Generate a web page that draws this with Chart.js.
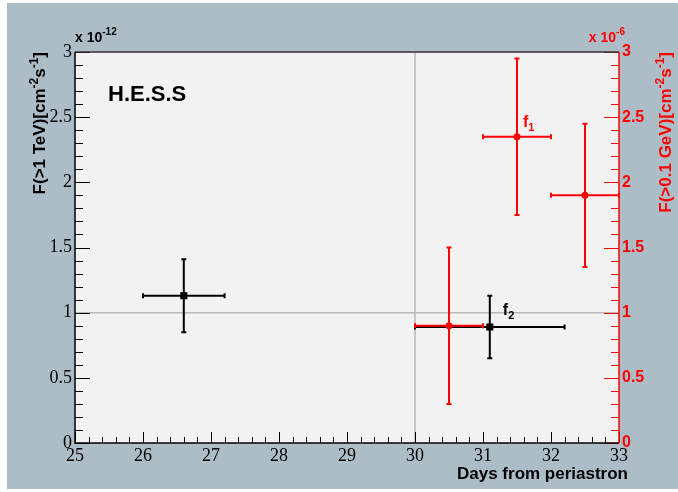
<!DOCTYPE html>
<html>
<head>
<meta charset="utf-8">
<script src="https://cdn.jsdelivr.net/npm/chart.js@4.4.0/dist/chart.umd.min.js"></script>
<style>
  html, body { margin: 0; padding: 0; background: #ffffff; }
  #wrap { position: absolute; left: 0; top: 0; width: 678px; height: 492px; }
</style>
</head>
<body>
<div id="wrap"><canvas id="lightcurve" width="678" height="492"></canvas></div>
<script>
// H.E.S.S. flux above 1 TeV (units of 1e-12 cm^-2 s^-1)
const hessDays    = [26.6, 31.1];
const hessFlux    = [1.13, 0.89];
const hessDayLo   = [26.0, 30.0];
const hessDayHi   = [27.2, 32.2];
const hessFluxLo  = [0.85, 0.65];
const hessFluxHi  = [1.41, 1.13];

// flux above 0.1 GeV (units of 1e-6 cm^-2 s^-1), red points
const latDays     = [30.5, 31.5, 32.5];
const latFlux     = [0.90, 2.35, 1.90];
const latDayLo    = [30.0, 31.0, 32.0];
const latDayHi    = [31.0, 32.0, 33.0];
const latFluxLo   = [0.30, 1.75, 1.35];
const latFluxHi   = [1.50, 2.95, 2.45];

// reference lines (periastron + 30 d, flux level 1)
const refDay = 30;
const refFlux = 1;

const RED = '#ff0000';
const SANS = '"Liberation Sans", Arial, sans-serif';
const SERIF = '"Liberation Serif", "Times New Roman", serif';

// ROOT style tick labels: 0, 0.5, 1, 1.5 ...
const rootLabel = (v) => String(parseFloat(Number(v).toFixed(1)));

/**
 * Draw a run of text pieces; each piece may be raised (superscript) or lowered (subscript)
 */
function drawPieces(ctx, pieces, x, y, color) {
    ctx.fillStyle = color;
    ctx.textAlign = 'left';
    ctx.textBaseline = 'alphabetic';
    let cx = x;
    pieces.forEach(p => {
        ctx.font = 'bold ' + p.size + 'px ' + SANS;
        ctx.fillText(p.text, cx, y + (p.dy || 0));
        cx += ctx.measureText(p.text).width;
    });
    return cx - x;
}

function piecesWidth(ctx, pieces) {
    let w = 0;
    pieces.forEach(p => {
        ctx.font = 'bold ' + p.size + 'px ' + SANS;
        w += ctx.measureText(p.text).width;
    });
    return w;
}

function drawErrorBars(ctx, xs, ys, xlo, xhi, ylo, yhi, xScale, yScale, color) {
    ctx.save();
    ctx.strokeStyle = color;
    ctx.lineWidth = 2;
    const cap = 2.5;
    for (let i = 0; i < xs.length; i++) {
        const px = xScale.getPixelForValue(xs[i]);
        const py = yScale.getPixelForValue(ys[i]);
        const x0 = xScale.getPixelForValue(xlo[i]);
        const x1 = xScale.getPixelForValue(xhi[i]);
        const y0 = yScale.getPixelForValue(ylo[i]);
        const y1 = yScale.getPixelForValue(yhi[i]);
        ctx.beginPath();
        ctx.moveTo(x0, py); ctx.lineTo(x1, py);
        ctx.moveTo(px, y0); ctx.lineTo(px, y1);
        // end caps
        ctx.moveTo(x0, py - cap); ctx.lineTo(x0, py + cap);
        ctx.moveTo(x1, py - cap); ctx.lineTo(x1, py + cap);
        ctx.moveTo(px - cap, y0); ctx.lineTo(px + cap, y0);
        ctx.moveTo(px - cap, y1); ctx.lineTo(px + cap, y1);
        ctx.stroke();
    }
    ctx.restore();
}

const rootStyle = {
    id: 'rootStyle',
    beforeDraw(chart) {
        const ctx = chart.ctx;
        const a = chart.chartArea;
        ctx.save();
        ctx.fillStyle = '#acbdc7';
        ctx.fillRect(7, 3, chart.width - 7, 486);
        ctx.fillStyle = '#f2f2f2';
        ctx.fillRect(a.left, a.top, a.right - a.left, a.bottom - a.top);
        ctx.restore();
    },
    beforeDatasetsDraw(chart) {
        const ctx = chart.ctx;
        const a = chart.chartArea;
        const sx = chart.scales.x, sy = chart.scales.y, sy2 = chart.scales.y2;
        ctx.save();
        ctx.strokeStyle = '#b8b8b8';
        ctx.lineWidth = 1.5;
        ctx.beginPath();
        const vx = sx.getPixelForValue(refDay);
        const hy = sy.getPixelForValue(refFlux);
        ctx.moveTo(vx, a.top); ctx.lineTo(vx, a.bottom);
        ctx.moveTo(a.left, hy); ctx.lineTo(a.right, hy);
        ctx.stroke();
        ctx.restore();
        drawErrorBars(ctx, hessDays, hessFlux, hessDayLo, hessDayHi, hessFluxLo, hessFluxHi, sx, sy, '#000000');
        drawErrorBars(ctx, latDays, latFlux, latDayLo, latDayHi, latFluxLo, latFluxHi, sx, sy2, RED);
    },
    afterDraw(chart) {
        const ctx = chart.ctx;
        const a = chart.chartArea;
        const sx = chart.scales.x, sy = chart.scales.y, sy2 = chart.scales.y2;
        ctx.save();

        // axis ticks, drawn inward like ROOT
        ctx.lineWidth = 1;
        ctx.strokeStyle = '#000000';
        ctx.beginPath();
        for (let i = 0; i <= 40; i++) {
            const v = sx.min + i * 0.2;
            const px = Math.round(sx.getPixelForValue(v)) + 0.5;
            const len = i % 5 === 0 ? 11 : 6;
            ctx.moveTo(px, a.bottom); ctx.lineTo(px, a.bottom - len);
        }
        for (let i = 0; i <= 30; i++) {
            const v = sy.min + i * 0.1;
            const py = Math.round(sy.getPixelForValue(v)) + 0.5;
            const len = i % 5 === 0 ? 15 : 8;
            ctx.moveTo(a.left, py); ctx.lineTo(a.left + len, py);
        }
        ctx.stroke();
        ctx.strokeStyle = RED;
        ctx.beginPath();
        for (let i = 0; i <= 30; i++) {
            const v = sy2.min + i * 0.1;
            const py = Math.round(sy2.getPixelForValue(v)) + 0.5;
            const len = i % 5 === 0 ? 15 : 8;
            ctx.moveTo(a.right, py); ctx.lineTo(a.right - len, py);
        }
        ctx.stroke();

        // frame
        ctx.lineWidth = 1.5;
        ctx.strokeStyle = '#333333';
        ctx.beginPath();
        ctx.moveTo(a.left, a.top); ctx.lineTo(a.right, a.top);
        ctx.stroke();
        ctx.strokeStyle = '#000000';
        ctx.beginPath();
        ctx.moveTo(a.left, a.top); ctx.lineTo(a.left, a.bottom); ctx.lineTo(a.right, a.bottom);
        ctx.stroke();
        ctx.strokeStyle = RED;
        ctx.beginPath();
        ctx.moveTo(a.right, a.top); ctx.lineTo(a.right, a.bottom);
        ctx.stroke();

        // exponent labels
        drawPieces(ctx, [{ text: 'x 10', size: 14 }, { text: '-12', size: 10, dy: -7 }], a.left, 42, '#000000');
        const expR = [{ text: 'x 10', size: 14 }, { text: '-6', size: 10, dy: -7 }];
        drawPieces(ctx, expR, a.right + 6 - piecesWidth(ctx, expR), 42, RED);

        // axis titles
        const leftTitle = [
            { text: 'F(>1 TeV)[cm', size: 17 }, { text: '-2', size: 12, dy: -7 },
            { text: 's', size: 17 }, { text: '-1', size: 12, dy: -7 }, { text: ']', size: 17 }
        ];
        const rightTitle = [
            { text: 'F(>0.1 GeV)[cm', size: 17 }, { text: '-2', size: 12, dy: -7 },
            { text: 's', size: 17 }, { text: '-1', size: 12, dy: -7 }, { text: ']', size: 17 }
        ];
        [[leftTitle, 45, '#000000'], [rightTitle, 671, RED]].forEach(([pieces, bx, color]) => {
            ctx.save();
            ctx.translate(bx, a.top);
            ctx.rotate(-Math.PI / 2);
            drawPieces(ctx, pieces, -piecesWidth(ctx, pieces), 0, color);
            ctx.restore();
        });

        const xTitle = [{ text: 'Days from periastron', size: 17 }];
        drawPieces(ctx, xTitle, 628 - piecesWidth(ctx, xTitle), 479, '#000000');

        // annotations
        drawPieces(ctx, [{ text: 'H.E.S.S', size: 22 }], 108, 101, '#000000');
        drawPieces(ctx, [{ text: 'f', size: 16 }, { text: '1', size: 11, dy: 4 }],
            sx.getPixelForValue(latDays[1]) + 6, sy2.getPixelForValue(latFlux[1]) - 10, RED);
        drawPieces(ctx, [{ text: 'f', size: 16 }, { text: '2', size: 11, dy: 4 }],
            sx.getPixelForValue(hessDays[1]) + 13, sy.getPixelForValue(hessFlux[1]) - 12, '#000000');

        ctx.restore();
    }
};

new Chart(document.getElementById('lightcurve'), {
    type: 'scatter',
    data: {
        datasets: [
            {
                label: 'H.E.S.S',
                data: hessDays.map((d, i) => ({ x: d, y: hessFlux[i] })),
                yAxisID: 'y',
                pointStyle: 'rect',
                pointRadius: 5,
                backgroundColor: '#000000',
                borderColor: '#000000',
                borderWidth: 0
            },
            {
                label: 'F(>0.1 GeV)',
                data: latDays.map((d, i) => ({ x: d, y: latFlux[i] })),
                yAxisID: 'y2',
                pointStyle: 'circle',
                pointRadius: 3.5,
                backgroundColor: RED,
                borderColor: RED,
                borderWidth: 0
            }
        ]
    },
    options: {
        responsive: false,
        animation: false,
        devicePixelRatio: 1,
        layout: { padding: { top: 52, left: 0, right: 0, bottom: 0 } },
        plugins: {
            legend: { display: false },
            tooltip: { enabled: false }
        },
        scales: {
            x: {
                type: 'linear',
                position: 'bottom',
                min: 25,
                max: 33,
                grid: { display: false, drawTicks: false },
                border: { display: false },
                ticks: {
                    stepSize: 1,
                    autoSkip: false,
                    maxRotation: 0,
                    padding: 2,
                    color: '#000000',
                    font: { family: SERIF, size: 18 },
                    callback: rootLabel
                },
                afterFit: (s) => { s.height = 49; }
            },
            y: {
                type: 'linear',
                position: 'left',
                min: 0,
                max: 3,
                grid: { display: false, drawTicks: false },
                border: { display: false },
                ticks: {
                    stepSize: 0.5,
                    padding: 3,
                    color: '#000000',
                    font: { family: SERIF, size: 18 },
                    callback: rootLabel
                },
                afterFit: (s) => { s.width = 75; }
            },
            y2: {
                type: 'linear',
                position: 'right',
                min: 0,
                max: 3,
                grid: { display: false, drawTicks: false },
                border: { display: false },
                ticks: {
                    stepSize: 0.5,
                    padding: 3,
                    color: RED,
                    font: { family: SANS, size: 16, weight: 'bold' },
                    callback: rootLabel
                },
                afterFit: (s) => { s.width = 59; }
            }
        }
    },
    plugins: [rootStyle]
});
</script>
</body>
</html>
